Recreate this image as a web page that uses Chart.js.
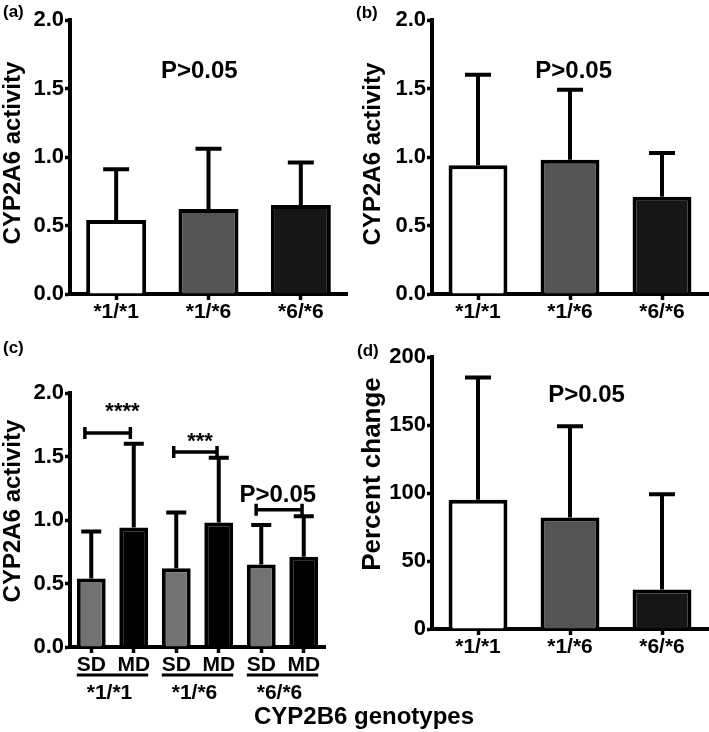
<!DOCTYPE html>
<html>
<head>
<meta charset="utf-8">
<script src="https://cdn.jsdelivr.net/npm/chart.js@4.4.0/dist/chart.umd.min.js"></script>
<style>
  body { margin: 0; background: #fff; width: 709px; height: 732px; position: relative; overflow: hidden;
         font-family: "Liberation Sans", Arial, sans-serif; color: #000; }
  .panel { position: absolute; }
  .tag { position: absolute; font-weight: bold; font-size: 17px; line-height: 17px; }
  #xtitle { position: absolute; left: 0; width: 728px; text-align: center; top: 704px;
            font-weight: bold; font-size: 24px; line-height: 24px; }
</style>
</head>
<body>
<div class="panel" style="left:0;top:0"><canvas id="chartA" width="355" height="340"></canvas></div>
<div class="panel" style="left:360px;top:0"><canvas id="chartB" width="349" height="340"></canvas></div>
<div class="panel" style="left:0;top:360px"><canvas id="chartC" width="355" height="372"></canvas></div>
<div class="panel" style="left:360px;top:330px"><canvas id="chartD" width="349" height="340"></canvas></div>
<div class="tag" style="left:3px;top:3px">(a)</div>
<div class="tag" style="left:356px;top:4px">(b)</div>
<div class="tag" style="left:3px;top:339px">(c)</div>
<div class="tag" style="left:357px;top:342px">(d)</div>
<div id="xtitle">CYP2B6 genotypes</div>
<script>
// values (mean and upper SD)
const genotypes = ['*1/*1', '*1/*6', '*6/*6'];
const doses = ['SD', 'MD'];
const sdActivity = [0.54, 0.62, 0.65];
const sdActivityErr = [0.37, 0.44, 0.31];
const mdActivity = [0.94, 0.98, 0.71];
const mdActivityErr = [0.66, 0.51, 0.32];
const pctChange = [95, 82, 29];
const pctChangeErr = [90, 67, 70];
const activityTicks = [0, 0.5, 1.0, 1.5, 2.0];
const pctTicks = [0, 50, 100, 150, 200];
const sigLabels = ['****', '***', 'P>0.05'];

const genotypeColors = ['#ffffff', '#545454', '#161616'];
const doseColors = ['#727272', '#000000'];

Chart.defaults.font.family = '"Liberation Sans", Arial, sans-serif';
Chart.defaults.color = '#000';

// error bars, brackets, notes, side title, group labels
const extras = {
  id: 'extras',
  afterDatasetsDraw(chart, args, opts) {
    const ctx = chart.ctx;
    const xs = chart.scales.x, ys = chart.scales.y;
    const area = chart.chartArea;
    const meta = chart.getDatasetMeta(0);
    const data = chart.data.datasets[0].data;
    ctx.save();
    ctx.strokeStyle = '#000';
    ctx.fillStyle = '#000';
    ctx.lineWidth = 4;

    (opts.errors || []).forEach((e, i) => {
      const bar = meta.data[i];
      const top = ys.getPixelForValue(data[i] + e);
      ctx.beginPath();
      ctx.moveTo(bar.x, bar.y);
      ctx.lineTo(bar.x, top);
      ctx.moveTo(bar.x - opts.cap / 2, top);
      ctx.lineTo(bar.x + opts.cap / 2, top);
      ctx.stroke();
    });

    ctx.lineWidth = 3.5;
    (opts.brackets || []).forEach(b => {
      const x0 = xs.getPixelForValue(b.from), x1 = xs.getPixelForValue(b.to);
      const y = ys.getPixelForValue(b.y);
      ctx.beginPath();
      ctx.moveTo(x0, y); ctx.lineTo(x1, y);
      ctx.moveTo(x0, y - 6); ctx.lineTo(x0, y + 6);
      ctx.moveTo(x1, y - 6); ctx.lineTo(x1, y + 6);
      ctx.stroke();
    });

    ctx.textAlign = 'center';
    ctx.textBaseline = 'alphabetic';
    (opts.notes || []).forEach(n => {
      ctx.font = 'bold ' + n.size + 'px "Liberation Sans", Arial, sans-serif';
      ctx.fillText(n.text, xs.getPixelForValue(n.x), ys.getPixelForValue(n.y));
    });

    if (opts.groups) {
      const w = meta.data[0].width;
      ctx.lineWidth = 3;
      ctx.font = 'bold 21px "Liberation Sans", Arial, sans-serif';
      ctx.textBaseline = 'middle';
      opts.groups.forEach((g, i) => {
        const left = meta.data[2 * i].x - w / 2;
        const right = meta.data[2 * i + 1].x + w / 2;
        ctx.beginPath();
        ctx.moveTo(left, area.bottom + 28);
        ctx.lineTo(right, area.bottom + 28);
        ctx.stroke();
        ctx.fillText(g, (left + right) / 2 - 3, area.bottom + 46);
      });
    }

    if (opts.title) {
      ctx.font = 'bold ' + opts.titleSize + 'px "Liberation Sans", Arial, sans-serif';
      ctx.textBaseline = 'middle';
      ctx.translate(13, (area.top + area.bottom) / 2 + opts.titleShift);
      ctx.rotate(-Math.PI / 2);
      ctx.fillText(opts.title, 0, 0);
    }
    ctx.restore();
  }
};

function makeChart(id, cfg) {
  const yTicks = cfg.yTicks;
  return new Chart(document.getElementById(id), {
    type: 'bar',
    data: {
      labels: cfg.labels,
      datasets: [{
        data: cfg.values,
        backgroundColor: cfg.colors,
        borderColor: '#000',
        borderWidth: 4,
        barPercentage: cfg.barPct,
        categoryPercentage: 1
      }]
    },
    options: {
      responsive: false,
      animation: false,
      layout: { padding: { top: cfg.padTop, right: cfg.padRight, left: 0, bottom: 0 } },
      plugins: {
        legend: { display: false },
        tooltip: { enabled: false },
        extras: cfg.extras
      },
      scales: {
        x: {
          grid: { display: true, offset: false, drawOnChartArea: false, drawTicks: true,
                  tickLength: 6, tickWidth: 3.5, tickColor: '#000' },
          border: { display: true, color: '#000', width: 4 },
          ticks: { font: { size: cfg.xFont, weight: 'bold', lineHeight: 1 }, padding: 2,
                   autoSkip: false, maxRotation: 0 },
          afterFit: s => { s.height = cfg.xHeight; }
        },
        y: {
          min: yTicks[0],
          max: yTicks[yTicks.length - 1],
          afterBuildTicks: s => { s.ticks = yTicks.map(v => ({ value: v })); },
          grid: { display: true, drawOnChartArea: false, drawTicks: true,
                  tickLength: 5, tickWidth: 3.5, tickColor: '#000' },
          border: { display: true, color: '#000', width: 4 },
          ticks: { font: { size: 22, weight: 'bold' }, padding: 1,
                   callback: v => cfg.decimals ? Number(v).toFixed(1) : String(v) },
          afterFit: s => { s.width = cfg.yWidth; }
        }
      }
    },
    plugins: [extras]
  });
}

// (a) single dose
makeChart('chartA', {
  labels: genotypes, values: sdActivity, colors: genotypeColors, barPct: 0.65,
  yTicks: activityTicks, decimals: true, padTop: 20, padRight: 8, xHeight: 46, yWidth: 70, xFont: 21,
  extras: { errors: sdActivityErr, cap: 26, title: 'CYP2A6 activity', titleSize: 24, titleShift: -4,
            notes: [{ text: 'P>0.05', x: 0.9, y: 1.577, size: 24 }] }
});

// (b) multiple dose
makeChart('chartB', {
  labels: genotypes, values: mdActivity, colors: genotypeColors, barPct: 0.64,
  yTicks: activityTicks, decimals: true, padTop: 20, padRight: 1, xHeight: 46, yWidth: 72, xFont: 21,
  extras: { errors: mdActivityErr, cap: 26, title: 'CYP2A6 activity', titleSize: 24, titleShift: -3,
            notes: [{ text: 'P>0.05', x: 1.04, y: 1.58, size: 24 }] }
});

// (c) SD vs MD per genotype
const cLabels = genotypes.flatMap(() => doses);
const cValues = genotypes.flatMap((g, i) => [sdActivity[i], mdActivity[i]]);
const cErrors = genotypes.flatMap((g, i) => [sdActivityErr[i], mdActivityErr[i]]);
const cColors = genotypes.flatMap(() => doseColors);
makeChart('chartC', {
  labels: cLabels, values: cValues, colors: cColors, barPct: 0.68,
  yTicks: activityTicks, decimals: true, padTop: 33, padRight: 30, xHeight: 85, yWidth: 70, xFont: 21,
  extras: {
    errors: cErrors, cap: 20, title: 'CYP2A6 activity', titleSize: 24, titleShift: -9,
    groups: genotypes,
    brackets: [{ from: -0.15, to: 0.92, y: 1.685 }, { from: 1.94, to: 2.96, y: 1.535 }, { from: 3.88, to: 4.96, y: 1.08 }],
    notes: [{ text: sigLabels[0], x: 0.735, y: 1.80, size: 22 },
            { text: sigLabels[1], x: 2.56, y: 1.57, size: 22 },
            { text: sigLabels[2], x: 4.39, y: 1.14, size: 24 }]
  }
});

// (d) percent change
makeChart('chartD', {
  labels: genotypes, values: pctChange, colors: genotypeColors, barPct: 0.64,
  yTicks: pctTicks, decimals: false, padTop: 27, padRight: 1, xHeight: 41, yWidth: 72, xFont: 21,
  extras: { errors: pctChangeErr, cap: 26, title: 'Percent change', titleSize: 26, titleShift: -19,
            notes: [{ text: 'P>0.05', x: 1.18, y: 167, size: 24 }] }
});
</script>
</body>
</html>
